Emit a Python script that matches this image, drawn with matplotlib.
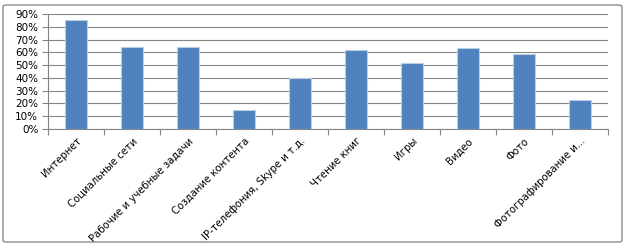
import matplotlib.pyplot as plt
import matplotlib.patches as patches
from matplotlib.ticker import PercentFormatter, FixedLocator, NullFormatter
import numpy as np

categories = ['Интернет', 'Социальные сети', 'Рабочие и учебные задачи',
              'Создание контента', 'IP-телефония, Skype и т.д.', 'Чтение книг',
              'Игры', 'Видео', 'Фото', 'Фотографирование и...']
values = [85, 64, 64, 14.5, 40, 62, 52, 63, 59, 23]
yticks = [0, 10, 20, 30, 40, 50, 60, 70, 80, 90]

fig = plt.figure(figsize=(6.26, 2.45), dpi=100)
ax = fig.add_axes([48 / 626, 1 - 129 / 245, 560 / 626, 115 / 245])

# outer chart border
border = patches.FancyBboxPatch((3 / 626, 3 / 245), 619 / 626, 237 / 245,
                                boxstyle='round,pad=0,rounding_size=0.006',
                                transform=fig.transFigure, fill=False,
                                edgecolor='#8c8c8c', linewidth=1.0)
fig.patches.append(border)

x = np.arange(len(categories))
ax.bar(x, values, width=0.41, color='#4F81BD', edgecolor='#B9CDE5',
       linewidth=0.8, zorder=3)

ax.set_xlim(-0.5, len(categories) - 0.5)
ax.set_ylim(0, 90)
ax.set_yticks(yticks)
ax.yaxis.set_major_formatter(PercentFormatter(decimals=0))
ax.grid(axis='y', color='#868686', linewidth=0.8, zorder=0)

# ticks between categories, labels at centers
ax.xaxis.set_major_locator(FixedLocator(np.arange(-0.5, len(categories), 1)))
ax.xaxis.set_major_formatter(NullFormatter())
ax.set_xticks(x, minor=True)
ax.set_xticklabels(categories, minor=True, rotation=45, ha='right',
                   rotation_mode='anchor', fontsize=7.3)
ax.tick_params(axis='x', which='minor', length=0, pad=5)
ax.tick_params(axis='x', which='major', length=4, color='#868686')
ax.tick_params(axis='y', length=4, color='#868686', labelsize=7.5, pad=3)

for s in ['top', 'right']:
    ax.spines[s].set_visible(False)
for s in ['left', 'bottom']:
    ax.spines[s].set_color('#868686')

fig.savefig('out.png', dpi=100)
